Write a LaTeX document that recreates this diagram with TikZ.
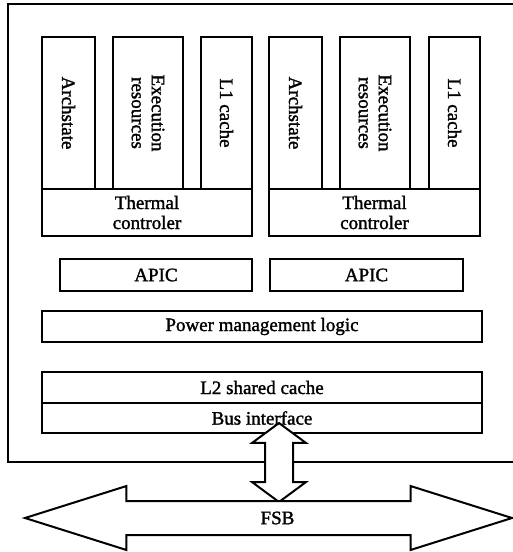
\documentclass[tikz,border=0pt]{standalone}
\usepackage{fontspec}
\setmainfont{Liberation Serif}[BoldFont=Liberation Serif,BoldFeatures={FakeBold=1.5}]
\usetikzlibrary{shapes.arrows}
\begin{document}
\begin{tikzpicture}[x=1pt,y=-1pt,
  font=\fontsize{19}{20}\selectfont\bfseries,
  blk/.style={draw,line width=2pt,inner sep=0pt,align=center,minimum height=31pt},
  vblk/.style={draw,line width=2pt,inner sep=0pt,align=center,rotate=-90,minimum width=152pt},
  bus/.style={double arrow,draw,fill=white,line width=2pt,inner xsep=0pt}]
  \useasboundingbox (0,0) rectangle (513,552);
  \clip (0,0) rectangle (513,552);
  \draw[line width=2.6pt] (8,4) rectangle (530,462);
  % first core
  \node[vblk,minimum height=53pt] (arch1) at (68.5,113) {Archstate};
  \node[vblk,minimum height=70pt] (exec1) at (148,113) {Execution\\resources};
  \node[vblk,minimum height=51pt] (lone1) at (226.5,113) {L1 cache};
  \node[blk,minimum width=210pt,minimum height=47pt] (therm1) at (147,212.5) {Thermal\\controler};
  % second core
  \node[vblk,minimum height=53pt] (arch2) at (295.5,113) {Archstate};
  \node[vblk,minimum height=70pt] (exec2) at (375,113) {Execution\\resources};
  \node[vblk,minimum height=51pt] (lone2) at (454.5,113) {L1 cache};
  \node[blk,minimum width=211pt,minimum height=47pt] (therm2) at (374.5,212.5) {Thermal\\controler};
  % shared parts
  \node[blk,minimum width=192pt,minimum height=32pt] (apic1) at (156,275) {APIC};
  \node[blk,minimum width=193pt,minimum height=32pt] (apic2) at (366.5,275) {APIC};
  \node[blk,minimum width=440pt] (power) at (262,326.5) {Power management logic};
  \node[blk,minimum width=440pt] (ltwo) at (262,387.5) {L2 shared cache};
  \node[blk,minimum width=440pt,minimum height=30pt] (busif) at (262,418) {};
  % buses
  \node[bus,rotate=90,inner ysep=13pt,minimum height=79pt,
    double arrow head extend=13pt,double arrow tip angle=107] (link) at (279,462.5) {};
  \node[bus,inner ysep=16pt,minimum height=487pt,
    double arrow head extend=15pt,double arrow tip angle=35,
    label={[xshift=9pt]center:FSB}] (fsb) at (268.5,518) {};
  \node at (busif) {Bus interface};
\end{tikzpicture}
\end{document}
